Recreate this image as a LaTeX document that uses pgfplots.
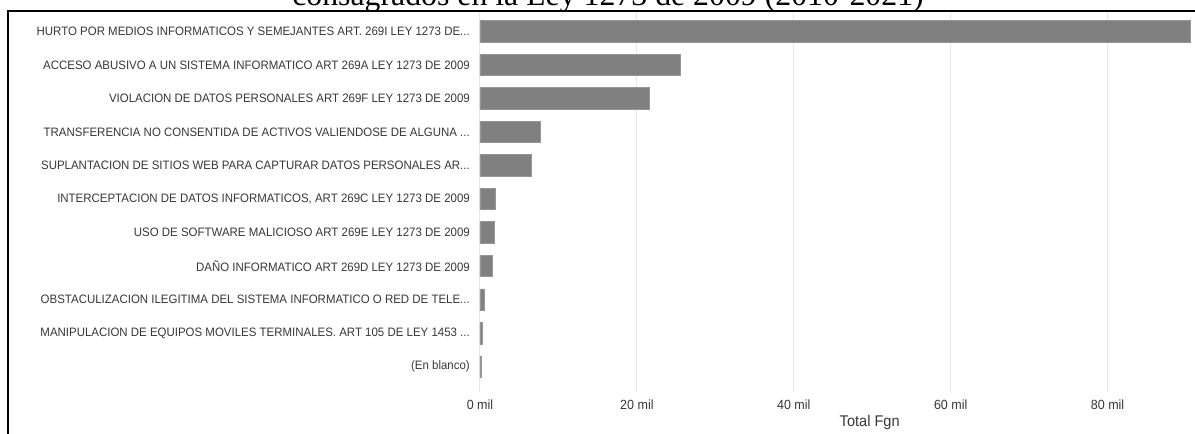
\documentclass[border=0pt]{standalone}
\usepackage{fontspec}
\setmainfont{Liberation Sans}
\newfontfamily\labfont[FakeStretch=0.94]{Liberation Sans}
\newfontfamily\titlefont{Liberation Serif}
\usepackage{pgfplots}
\pgfplotsset{compat=1.18}
\definecolor{barfill}{RGB}{128,128,128}
\definecolor{baredge}{RGB}{150,150,150}
\definecolor{gridc}{RGB}{232,232,232}
\definecolor{labc}{RGB}{55,55,55}
\newcommand{\dd}{.\kern0pt.\kern0pt.}
\begin{document}
\begin{tikzpicture}
\useasboundingbox (0pt,0pt) rectangle (1195pt,434pt);
\clip (0pt,0pt) rectangle (1195pt,434pt);
\begin{axis}[
  at={(480pt,42pt)}, anchor=south west,
  scale only axis, width=715pt, height=380pt,
  xbar, bar width=21.5pt, bar shift=0pt,
  xmin=0, xmax=91.14,
  ymin=-0.582, ymax=10.755, y dir=reverse,
  axis line style={draw=none},
  major tick length=0pt,
  xtick={0,20,40,60,80},
  xticklabels={0 mil,20 mil,40 mil,60 mil,80 mil},
  ytick={0,1,2,3,4,5,6,7,8,9,10},
  yticklabels={
    {HURTO POR MEDIOS INFORMATICOS Y SEMEJANTES ART. 269I LEY 1273 DE\dd},
    {ACCESO ABUSIVO A UN SISTEMA INFORMATICO ART 269A LEY 1273 DE 2009},
    {VIOLACION DE DATOS PERSONALES ART 269F LEY 1273 DE 2009},
    {TRANSFERENCIA NO CONSENTIDA DE ACTIVOS VALIENDOSE DE ALGUNA \dd},
    {SUPLANTACION DE SITIOS WEB PARA CAPTURAR DATOS PERSONALES AR\dd},
    {INTERCEPTACION DE DATOS INFORMATICOS, ART 269C LEY 1273 DE 2009},
    {USO DE SOFTWARE MALICIOSO ART 269E LEY 1273 DE 2009},
    {DAÑO INFORMATICO ART 269D LEY 1273 DE 2009},
    {OBSTACULIZACION ILEGITIMA DEL SISTEMA INFORMATICO O RED DE TELE\dd},
    {MANIPULACION DE EQUIPOS MOVILES TERMINALES. ART 105 DE LEY 1453 \dd},
    {(En blanco)}},
  xmajorgrids, ymajorgrids=false,
  grid style={draw=gridc, line width=1pt},
  xticklabel style={font=\labfont\fontsize{13.3}{15}\selectfont, text=labc, anchor=north, inner sep=0pt, yshift=-8pt},
  yticklabel style={font=\labfont\fontsize{12.2}{14}\selectfont, text=labc, anchor=east, inner sep=0pt, xshift=-10pt},
  xlabel={Total Fgn},
  xlabel style={font=\labfont\fontsize{15.5}{17}\selectfont, text=labc, at={(axis description cs:0.545,0)}, anchor=base, inner sep=0pt, yshift=-34.7pt},
  clip=false,
]
\addplot[fill=barfill, draw=baredge, line width=0.8pt] coordinates {
  (90.5,0) (25.6,1) (21.6,2) (7.65,3) (6.5,4) (1.9,5) (1.8,6) (1.6,7) (0.55,8) (0.3,9) (0.12,10)};
\end{axis}
\draw[line width=2pt] (8.4pt,-2pt) -- (8.4pt,423pt) -- (1200pt,423pt);
\node[font=\titlefont\fontsize{31.8}{34}\selectfont, anchor=base, inner sep=0pt] at (608pt,428pt) {consagrados en la Ley 1273 de 2009 (2010-2021)};
\end{tikzpicture}
\end{document}
